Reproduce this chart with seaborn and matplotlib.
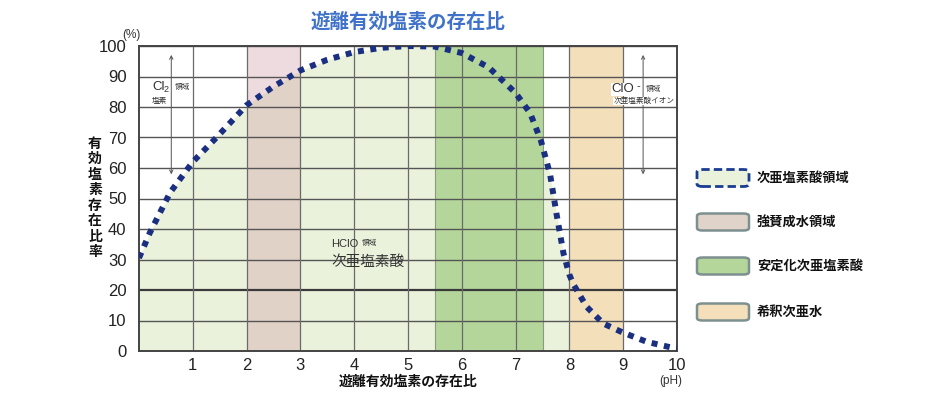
import numpy as np
import pandas as pd
import matplotlib
matplotlib.use("Agg")
import matplotlib.pyplot as plt
from matplotlib.patches import FancyBboxPatch
import seaborn as sns

# ---- data ----
ph = [0.0, 0.2, 0.58, 1.0, 1.44, 2.0, 2.5, 3.0, 3.5, 4.0, 4.5, 5.0, 5.5, 6.0,
      6.5, 7.0, 7.27, 7.47, 7.64, 7.76, 7.89, 8.0, 8.07, 8.32, 8.63, 9.0, 9.44, 9.93, 10.0]
ratio = [30.5, 38.7, 52, 62, 70, 80.6, 86.7, 92, 95.5, 98, 99.4, 100, 99.8, 97.7,
         93, 84.6, 78, 69, 58, 45, 32, 25, 22, 14.5, 9, 6, 3, 1, 0.8]

x_ticks = [1, 2, 3, 4, 5, 6, 7, 8, 9, 10]
y_ticks = [0, 10, 20, 30, 40, 50, 60, 70, 80, 90, 100]

band_names = ["次亜塩素酸領域", "強賛成水領域", "安定化次亜塩素酸", "希釈次亜水"]
band_colors = ["#ebf2dc", "#e0d3c9", "#b4d69b", "#f3dfba"]
pink_span = (2, 3)
green_span = (5.5, 7.5)
orange_span = (8, 9)
hclo_end = 8

title = "遊離有効塩素の存在比"
xlabel = "遊離有効塩素の存在比"
ylabel = "有効塩素存在比率"

# ---- styling ----
sns.set_style("white")
plt.rcParams["font.family"] = ["Noto Sans CJK JP", "DejaVu Sans"]

fig = plt.figure(figsize=(9.3, 4.16), dpi=100)
ax = fig.add_axes([139 / 930, 1 - 351 / 416, (677 - 139) / 930, (351 - 46) / 416])

df = pd.DataFrame({"pH": ph, "ratio": ratio})
xs = np.array(ph)
ys = np.array(ratio)

# light green area under the curve (HClO region)
ax.fill_between(xs, 0, ys, where=xs <= hclo_end, color=band_colors[0], lw=0, zorder=0.5)
# bands
ax.axvspan(*pink_span, color=(205 / 255, 145 / 255, 158 / 255), alpha=0.32, lw=0, zorder=0.7)
ax.axvspan(*green_span, color=band_colors[2], lw=0, zorder=0.7)
ax.axvspan(*orange_span, color=band_colors[3], lw=0, zorder=0.7)
for xv in green_span:
    ax.axvline(xv, color="#8a9a80", lw=0.8, zorder=1)

# grid
for yv in y_ticks[1:]:
    ax.axhline(yv, color="#3a3a3a" if yv == 20 else "#555555",
               lw=1.6 if yv == 20 else 1.0, zorder=1.2)
for xv in x_ticks[:-1]:
    ax.axvline(xv, color="#6a6a6a", lw=0.9, zorder=1.2)

sns.lineplot(data=df, x="pH", y="ratio", ax=ax, color="#1b2f80", lw=4.3,
             linestyle=(0, (1.0, 1.1)), zorder=3, clip_on=True)

ax.set_xlim(0, 10)
ax.set_ylim(0, 100)
ax.set_xticks(x_ticks)
ax.set_yticks(y_ticks)
ax.set_xticklabels([str(v) for v in x_ticks], fontsize=12, family="Liberation Sans", color="#222222")
ax.set_yticklabels([str(v) for v in y_ticks], fontsize=12, family="Liberation Sans", color="#222222")
ax.tick_params(axis="both", length=0)
ax.tick_params(axis="y", pad=9)
ax.tick_params(axis="x", pad=5)
ax.set_xlabel("")
ax.set_ylabel("")
for sp in ax.spines.values():
    sp.set_color("#444444")
    sp.set_linewidth(1.4)
    sp.set_visible(True)

# arrows
ax.annotate("", xy=(0.6, 98), xytext=(0.6, 57),
            arrowprops=dict(arrowstyle="<->", color="#555555", lw=0.7, mutation_scale=6),
            zorder=2)
ax.annotate("", xy=(9.37, 98), xytext=(9.37, 57),
            arrowprops=dict(arrowstyle="<->", color="#555555", lw=0.7, mutation_scale=6),
            zorder=2)

# region annotations
ax.text(0.24, 86.5, "Cl", fontsize=9.5, family="Liberation Sans", va="center", color="#333333",
        zorder=4, bbox=dict(facecolor="white", edgecolor="none", pad=0.3))
ax.text(0.46, 85.6, "2", fontsize=6.5, family="Liberation Sans", va="center", color="#333333", zorder=4)
ax.text(0.66, 86.7, "領域", fontsize=5.5, va="center", color="#333333", zorder=4,
        bbox=dict(facecolor="white", edgecolor="none", pad=0.3))
ax.text(0.24, 82.0, "塩素", fontsize=5.5, va="center", color="#333333", zorder=4)

ax.text(8.78, 85.8, "ClO", fontsize=9.5, family="Liberation Sans", va="center", color="#333333",
        zorder=4, bbox=dict(facecolor="white", edgecolor="none", pad=0.3))
ax.text(9.25, 86.8, "-", fontsize=8, family="Liberation Sans", va="center", color="#333333", zorder=4)
ax.text(9.42, 86.0, "領域", fontsize=5.5, va="center", color="#333333", zorder=4)
ax.text(9.95, 82.0, "次亜塩素酸イオン", fontsize=5.5, va="center", ha="right", color="#333333", zorder=4,
        bbox=dict(facecolor="white", edgecolor="none", pad=0.3))

ax.text(3.58, 35.2, "HClO", fontsize=8, family="Liberation Sans", va="center", color="#333333", zorder=4)
ax.text(4.14, 35.4, "領域", fontsize=5.5, va="center", color="#333333", zorder=4)
ax.text(3.57, 29.2, "次亜塩素酸", fontsize=10.5, va="center", color="#333333", zorder=4)

# titles & labels
fig.text(408 / 930, 1 - 22 / 416, title, fontsize=14, color="#3f72c8",
         ha="center", va="center", fontweight="bold")
fig.text(408 / 930, 1 - 382 / 416, xlabel, fontsize=10, color="#111111",
         ha="center", va="center", fontweight="bold")
fig.text(95 / 930, 1 - 198 / 416, "\n".join(ylabel), fontsize=10, color="#111111",
         ha="center", va="center", fontweight="bold", linespacing=1.14)
fig.text(131 / 930, 1 - 35 / 416, "(%)", fontsize=8.5, family="Liberation Sans",
         ha="center", va="center", color="#333333")
fig.text(671 / 930, 1 - 381 / 416, "(pH)", fontsize=8.5, family="Liberation Sans",
         ha="center", va="center", color="#333333")

# legend
legend_y = [178, 222, 266, 312]
for i, (name, col) in enumerate(zip(band_names, band_colors)):
    yc = 1 - legend_y[i] / 416
    h = 17 / 416
    w = 52 / 930
    if i == 0:
        patch = FancyBboxPatch((697 / 930, yc - h / 2), w, h,
                               boxstyle="round,pad=0,rounding_size=0.006",
                               transform=fig.transFigure, facecolor=col,
                               edgecolor="#1b3d91", lw=2.0, linestyle=(0, (3, 1.5)))
    else:
        patch = FancyBboxPatch((697 / 930, yc - h / 2), w, h,
                               boxstyle="round,pad=0,rounding_size=0.006",
                               transform=fig.transFigure, facecolor=col,
                               edgecolor="#7d9090", lw=1.8)
    fig.patches.append(patch)
    fig.text(757 / 930, yc, name, fontsize=9.5, fontweight="bold", va="center",
             ha="left", color="#111111")

fig.savefig("out.png", dpi=100)
